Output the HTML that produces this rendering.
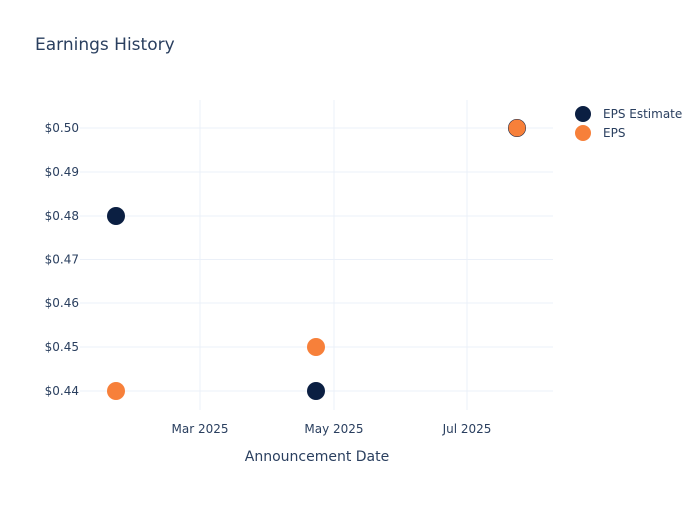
<!DOCTYPE html>
<html><head><style>
body{margin:0;background:#fff;}
</style></head><body>
<svg width="700" height="500" xmlns="http://www.w3.org/2000/svg" font-family="DejaVu Sans, sans-serif">
<rect width="700" height="500" fill="#fff"/>
<text x="35" y="50" font-size="17" fill="#2a3f5f">Earnings History</text>
<g stroke="#ebf0f8" stroke-width="1">
<line x1="200" y1="100" x2="200" y2="410"/>
<line x1="334" y1="100" x2="334" y2="410"/>
<line x1="467" y1="100" x2="467" y2="410"/>
<line x1="80" y1="128" x2="553" y2="128"/>
<line x1="80" y1="172" x2="553" y2="172"/>
<line x1="80" y1="216" x2="553" y2="216"/>
<line x1="80" y1="259.5" x2="553" y2="259.5"/>
<line x1="80" y1="303" x2="553" y2="303"/>
<line x1="80" y1="347" x2="553" y2="347"/>
<line x1="80" y1="391" x2="553" y2="391"/>
</g>
<g font-size="12" fill="#2a3f5f" text-anchor="end">
<text x="79" y="132">$0.50</text>
<text x="79" y="176">$0.49</text>
<text x="79" y="220">$0.48</text>
<text x="79" y="263.5">$0.47</text>
<text x="79" y="307">$0.46</text>
<text x="79" y="351">$0.45</text>
<text x="79" y="395">$0.44</text>
</g>
<g font-size="12" fill="#2a3f5f" text-anchor="middle">
<text x="200" y="433">Mar 2025</text>
<text x="334" y="433">May 2025</text>
<text x="467" y="433">Jul 2025</text>
</g>
<text x="317" y="461" font-size="14" fill="#2a3f5f" text-anchor="middle">Announcement Date</text>
<g>
<circle cx="116" cy="216" r="9" fill="#0b1f42"/>
<circle cx="316" cy="391" r="9" fill="#0b1f42"/>
<circle cx="517" cy="128" r="9" fill="#0b1f42"/>
<circle cx="116" cy="391" r="9" fill="#f7803a"/>
<circle cx="316" cy="347" r="9" fill="#f7803a"/>
<circle cx="517" cy="128" r="8.5" fill="#f7803a"/>
</g>
<circle cx="583" cy="114" r="8" fill="#0b1f42"/>
<circle cx="583" cy="133" r="8" fill="#f7803a"/>
<text x="603" y="118" font-size="12" fill="#2a3f5f">EPS Estimate</text>
<text x="603" y="137" font-size="12" fill="#2a3f5f">EPS</text>
</svg>
</body></html>
